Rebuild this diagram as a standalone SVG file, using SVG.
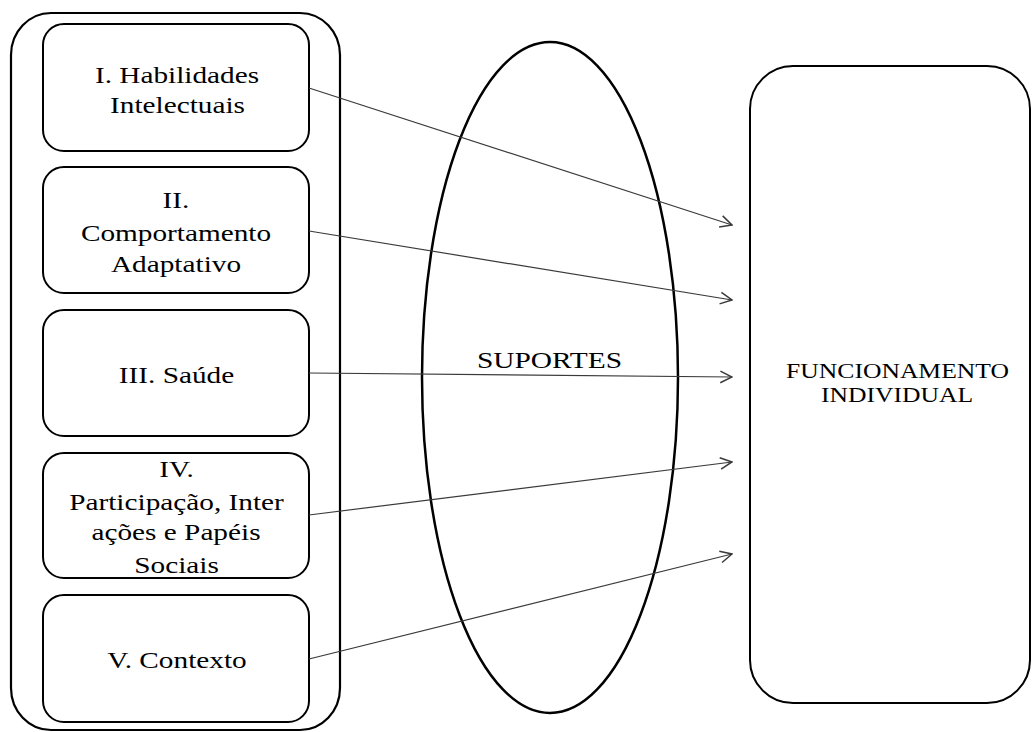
<svg xmlns="http://www.w3.org/2000/svg" width="1033" height="732" viewBox="0 0 1033 732">
  <style>
    .box { fill: #ffffff; stroke: #000000; stroke-width: 2; }
    .outer { fill: #ffffff; stroke: #000000; stroke-width: 2.2; }
    .ell { fill: none; stroke: #000000; stroke-width: 2.5; }
    .lbl { font-family: "Liberation Serif", "Times New Roman", serif; font-size: 24px; fill: #000000; text-anchor: middle; }
    .lbl2 { font-family: "Liberation Serif", "Times New Roman", serif; font-size: 21px; fill: #000000; text-anchor: middle; }
    .conn { stroke: #3a3a3a; stroke-width: 1.2; fill: none; marker-end: url(#arr); }
  </style>
  <defs>
    <marker id="arr" markerUnits="userSpaceOnUse" markerWidth="14" markerHeight="14" viewBox="0 0 12 12" refX="11" refY="6" orient="auto">
      <path d="M1,1 L11,6 L1,11" fill="none" stroke="#3a3a3a" stroke-width="1.3"/>
    </marker>
  </defs>
  <rect width="1033" height="732" fill="#ffffff"/>

  <g id="container">
    <rect class="outer" x="11" y="13" width="329" height="717" rx="40" ry="42"/>
  </g>

  <g id="suportes">
    <ellipse class="ell" cx="550" cy="377.5" rx="128" ry="335.5"/>
    <text class="lbl" transform="translate(549.5,368) scale(1.225,1)">SUPORTES</text>
  </g>

  <g id="funcionamento">
    <rect class="box" x="750" y="66" width="280" height="637" rx="43" ry="43"/>
    <text class="lbl2" transform="translate(897.5,378) scale(1.22,1)">FUNCIONAMENTO</text>
    <text class="lbl2" transform="translate(897,402) scale(1.22,1)">INDIVIDUAL</text>
  </g>

  <g id="habilidades">
    <rect class="box" x="43" y="24" width="266" height="127" rx="21" ry="21"/>
    <text class="lbl" transform="translate(177,83) scale(1.22,1)">I. Habilidades</text>
    <text class="lbl" transform="translate(177.5,113) scale(1.22,1)">Intelectuais</text>
  </g>

  <g id="comportamento">
    <rect class="box" x="43" y="167" width="266" height="126" rx="21" ry="21"/>
    <text class="lbl" transform="translate(176,208) scale(1.22,1)">II.</text>
    <text class="lbl" transform="translate(176,241) scale(1.22,1)">Comportamento</text>
    <text class="lbl" transform="translate(176,272) scale(1.22,1)">Adaptativo</text>
  </g>

  <g id="saude">
    <rect class="box" x="43" y="310" width="266" height="126" rx="21" ry="21"/>
    <text class="lbl" transform="translate(176.5,383) scale(1.22,1)">III. Saúde</text>
  </g>

  <g id="participacao">
    <rect class="box" x="43" y="453" width="266" height="125" rx="21" ry="21"/>
    <text class="lbl" transform="translate(176.5,477) scale(1.22,1)">IV.</text>
    <text class="lbl" transform="translate(176.5,510) scale(1.22,1)">Participação, Inter</text>
    <text class="lbl" transform="translate(176,540) scale(1.22,1)">ações e Papéis</text>
    <text class="lbl" transform="translate(176.5,573) scale(1.22,1)">Sociais</text>
  </g>

  <g id="contexto">
    <rect class="box" x="43" y="595" width="266" height="127" rx="21" ry="21"/>
    <text class="lbl" transform="translate(177,668) scale(1.22,1)">V. Contexto</text>
  </g>

  <g id="connectors">
    <line class="conn" x1="309" y1="88" x2="732" y2="225"/>
    <line class="conn" x1="309" y1="231" x2="732" y2="300"/>
    <line class="conn" x1="309" y1="373" x2="732" y2="377"/>
    <line class="conn" x1="309" y1="515" x2="732" y2="462"/>
    <line class="conn" x1="309" y1="659" x2="732" y2="554"/>
  </g>
</svg>
